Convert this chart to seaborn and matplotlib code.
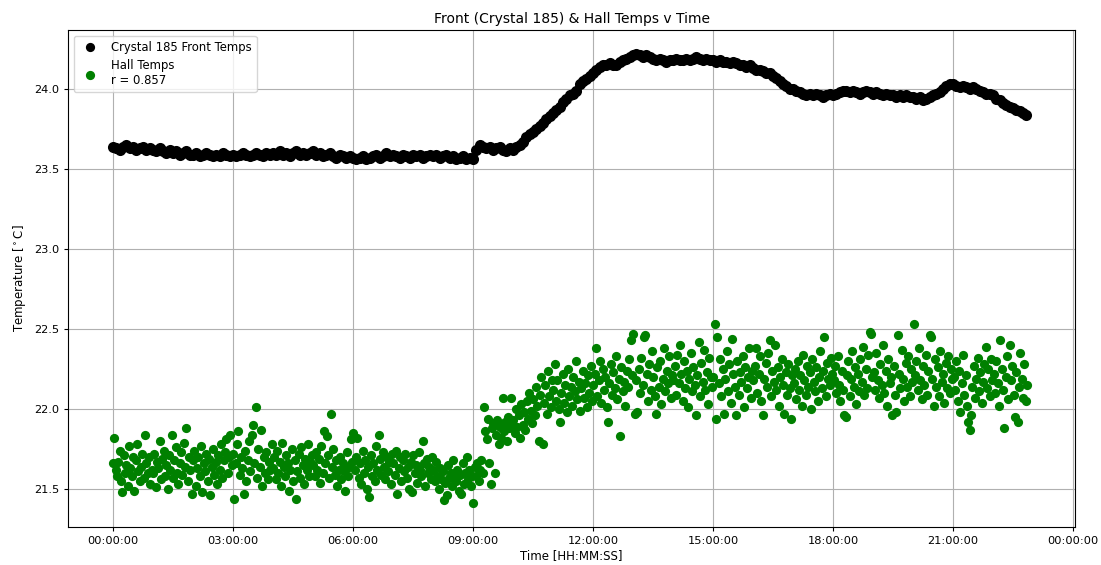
import numpy as np
import pandas as pd
import matplotlib
matplotlib.use("Agg")
import matplotlib.pyplot as plt
import matplotlib.dates as mdates
import seaborn as sns

# ---- Data ----
# Crystal 185 front temperatures, one reading every 5 minutes from 00:00 to 22:50
crystal_temps = [
    # 00h
    23.64, 23.63, 23.62, 23.64, 23.65, 23.63, 23.64, 23.62, 23.63, 23.64, 23.62, 23.63,
    # 01h
    23.62, 23.61, 23.63, 23.61, 23.60, 23.62, 23.60, 23.61, 23.59, 23.60, 23.61, 23.59,
    # 02h
    23.59, 23.60, 23.58, 23.59, 23.60, 23.59, 23.58, 23.59, 23.58, 23.60, 23.59, 23.58,
    # 03h
    23.59, 23.58, 23.59, 23.60, 23.59, 23.58, 23.59, 23.60, 23.59, 23.58, 23.60, 23.59,
    # 04h
    23.60, 23.59, 23.61, 23.59, 23.60, 23.58, 23.60, 23.61, 23.59, 23.60, 23.59, 23.60,
    # 05h
    23.61, 23.59, 23.60, 23.58, 23.59, 23.60, 23.58, 23.57, 23.59, 23.58, 23.57, 23.58,
    # 06h
    23.57, 23.56, 23.57, 23.58, 23.56, 23.57, 23.58, 23.59, 23.57, 23.58, 23.60, 23.58,
    # 07h
    23.59, 23.58, 23.57, 23.59, 23.58, 23.57, 23.59, 23.58, 23.59, 23.57, 23.58, 23.59,
    # 08h
    23.58, 23.59, 23.57, 23.58, 23.59, 23.57, 23.58, 23.56, 23.57, 23.58, 23.56, 23.57,
    # 09h
    23.56, 23.62, 23.65, 23.64, 23.63, 23.64, 23.62, 23.63, 23.64, 23.62, 23.61, 23.63,
    # 10h
    23.62, 23.64, 23.65, 23.67, 23.70, 23.72, 23.73, 23.75, 23.77, 23.79, 23.81, 23.83,
    # 11h
    23.85, 23.87, 23.89, 23.92, 23.94, 23.96, 23.97, 23.99, 24.03, 24.05, 24.06, 24.08,
    # 12h
    24.10, 24.12, 24.14, 24.15, 24.15, 24.16, 24.15, 24.15, 24.17, 24.18, 24.19, 24.20,
    # 13h
    24.21, 24.22, 24.21, 24.20, 24.21, 24.20, 24.19, 24.18, 24.19, 24.18, 24.17, 24.18,
    # 14h
    24.18, 24.19, 24.18, 24.18, 24.19, 24.18, 24.19, 24.20, 24.19, 24.18, 24.19, 24.18,
    # 15h
    24.18, 24.17, 24.18, 24.17, 24.17, 24.16, 24.17, 24.16, 24.15, 24.15, 24.14, 24.15,
    # 16h
    24.13, 24.12, 24.12, 24.11, 24.10, 24.10, 24.08, 24.07, 24.05, 24.03, 24.02, 24.00,
    # 17h
    24.00, 23.99, 23.98, 23.97, 23.96, 23.97, 23.96, 23.97, 23.96, 23.95, 23.96, 23.97,
    # 18h
    23.96, 23.97, 23.98, 23.99, 23.99, 23.98, 23.99, 23.98, 23.97, 23.98, 23.99, 23.98,
    # 19h
    23.97, 23.98, 23.97, 23.96, 23.97, 23.96, 23.96, 23.95, 23.96, 23.95, 23.96, 23.95,
    # 20h
    23.95, 23.94, 23.95, 23.93, 23.94, 23.95, 23.96, 23.97, 23.98, 24.00, 24.02, 24.03,
    # 21h
    24.03, 24.02, 24.01, 24.02, 24.01, 24.00, 24.01, 24.00, 23.99, 23.98, 23.97, 23.97,
    # 22h
    23.96, 23.94, 23.93, 23.91, 23.90, 23.89, 23.88, 23.87, 23.86, 23.85, 23.84,
]

# Hall temperatures, evenly sampled from 00:00 to 22:51 (30 readings per hour)
hall_temps = [
    # 00h
    21.66, 21.82, 21.62, 21.58, 21.67, 21.74, 21.55, 21.48, 21.71, 21.60,
    21.65, 21.52, 21.77, 21.63, 21.58, 21.70, 21.49, 21.68, 21.78, 21.61,
    21.55, 21.64, 21.72, 21.57, 21.84, 21.66, 21.60, 21.70, 21.53, 21.62,
    # 01h
    21.60, 21.72, 21.51, 21.67, 21.63, 21.80, 21.56, 21.69, 21.74, 21.58,
    21.65, 21.50, 21.71, 21.62, 21.84, 21.57, 21.68, 21.76, 21.60, 21.53,
    21.66, 21.73, 21.59, 21.79, 21.64, 21.88, 21.55, 21.70, 21.62, 21.47,
    # 02h
    21.68, 21.74, 21.52, 21.63, 21.70, 21.58, 21.77, 21.48, 21.66, 21.61,
    21.72, 21.55, 21.69, 21.46, 21.64, 21.75, 21.59, 21.67, 21.53, 21.71,
    21.62, 21.78, 21.57, 21.68, 21.73, 21.81, 21.60, 21.70, 21.84, 21.65,
    # 03h
    21.72, 21.44, 21.66, 21.78, 21.86, 21.59, 21.70, 21.63, 21.47, 21.74,
    21.55, 21.68, 21.80, 21.61, 21.84, 21.90, 21.66, 22.01, 21.57, 21.75,
    21.64, 21.87, 21.52, 21.70, 21.60, 21.73, 21.56, 21.67, 21.62, 21.78,
    # 04h
    21.63, 21.70, 21.56, 21.74, 21.60, 21.67, 21.52, 21.79, 21.64, 21.58,
    21.71, 21.66, 21.49, 21.62, 21.75, 21.55, 21.68, 21.44, 21.61, 21.72,
    21.57, 21.76, 21.65, 21.53, 21.69, 21.62, 21.78, 21.58, 21.66, 21.71,
    # 05h
    21.65, 21.58, 21.73, 21.62, 21.69, 21.54, 21.77, 21.60, 21.86, 21.66,
    21.83, 21.71, 21.57, 21.97, 21.64, 21.75, 21.59, 21.68, 21.52, 21.62,
    21.70, 21.56, 21.66, 21.61, 21.49, 21.73, 21.58, 21.64, 21.81, 21.67,
    # 06h
    21.85, 21.62, 21.70, 21.82, 21.57, 21.66, 21.53, 21.74, 21.60, 21.68,
    21.50, 21.64, 21.45, 21.71, 21.58, 21.66, 21.55, 21.77, 21.62, 21.84,
    21.69, 21.59, 21.73, 21.64, 21.56, 21.70, 21.61, 21.67, 21.53, 21.72,
    # 07h
    21.66, 21.59, 21.74, 21.47, 21.63, 21.70, 21.55, 21.68, 21.61, 21.72,
    21.57, 21.64, 21.50, 21.67, 21.48, 21.71, 21.60, 21.65, 21.54, 21.73,
    21.62, 21.58, 21.80, 21.66, 21.52, 21.69, 21.60, 21.64, 21.56, 21.70,
    # 08h
    21.62, 21.55, 21.67, 21.58, 21.50, 21.63, 21.56, 21.61, 21.43, 21.54,
    21.46, 21.65, 21.57, 21.60, 21.52, 21.68, 21.58, 21.55, 21.62, 21.49,
    21.59, 21.47, 21.66, 21.53, 21.60, 21.70, 21.56, 21.62, 21.52, 21.58,
    # 09h
    21.41, 21.64, 21.58, 21.66, 21.55, 21.62, 21.68, 21.60, 22.01, 21.86,
    21.81, 21.94, 21.66, 21.53, 21.88, 21.91, 21.60, 21.84, 21.93, 21.78,
    21.89, 21.82, 22.07, 21.86, 21.92, 21.80, 21.95, 21.88, 22.07, 21.91,
    # 10h
    21.93, 21.85, 22.00, 21.89, 21.96, 21.82, 22.03, 21.90, 21.98, 21.87,
    22.05, 21.94, 22.10, 21.99, 21.91, 22.06, 21.96, 22.14, 22.02, 21.80,
    22.09, 22.20, 21.78, 22.04, 22.15, 21.97, 22.24, 22.08, 22.01, 22.18,
    # 11h
    22.12, 22.28, 22.05, 22.18, 22.00, 21.92, 22.10, 22.22, 22.04, 22.15,
    21.98, 22.25, 22.08, 22.14, 22.02, 22.20, 22.11, 22.30, 22.06, 22.17,
    21.99, 22.13, 22.24, 22.07, 22.16, 22.01, 22.21, 22.10, 22.27, 22.05,
    # 12h
    22.15, 22.22, 22.38, 22.08, 22.18, 22.30, 22.04, 22.25, 22.12, 22.20,
    22.01, 21.92, 22.16, 22.28, 22.09, 22.23, 22.13, 22.33, 22.06, 22.19,
    21.83, 22.26, 22.11, 22.17, 22.02, 22.24, 22.14, 22.31, 22.43, 22.21,
    # 13h
    22.47, 21.97, 22.18, 21.98, 22.25, 22.10, 22.32, 22.15, 22.45, 22.46,
    22.22, 22.05, 22.28, 22.12, 22.36, 22.20, 22.08, 21.97, 22.26, 22.14,
    22.30, 22.03, 22.19, 22.38, 22.11, 22.24, 22.16, 22.33, 22.07, 22.21,
    # 14h
    22.18, 22.27, 22.09, 22.34, 22.16, 22.40, 22.22, 22.05, 22.30, 22.13,
    22.24, 22.01, 22.19, 22.35, 22.11, 22.26, 22.15, 21.96, 22.21, 22.42,
    22.08, 22.29, 22.17, 22.37, 22.12, 22.23, 22.03, 22.32, 22.20, 22.14,
    # 15h
    22.20, 22.53, 21.94, 22.45, 22.16, 22.31, 22.08, 22.25, 21.97, 22.19,
    22.36, 22.11, 22.28, 22.04, 22.44, 22.22, 22.14, 21.96, 22.30, 22.09,
    22.23, 22.17, 22.33, 22.01, 22.26, 22.13, 22.20, 22.38, 22.07, 22.24,
    # 16h
    22.18, 22.27, 22.38, 22.10, 22.22, 22.33, 22.05, 21.96, 22.19, 22.29,
    22.14, 22.35, 22.43, 22.08, 22.24, 22.17, 22.40, 22.12, 22.26, 22.02,
    22.20, 22.31, 22.15, 21.97, 22.23, 22.09, 22.28, 22.13, 21.94, 22.21,
    # 17h
    22.16, 22.25, 22.06, 22.30, 22.12, 22.21, 22.02, 22.34, 22.18, 22.09,
    22.27, 22.14, 22.23, 22.00, 22.31, 22.17, 22.11, 22.26, 22.05, 22.20,
    22.36, 22.13, 22.24, 22.45, 22.08, 22.29, 22.19, 22.15, 22.32, 22.22,
    # 18h
    22.18, 22.27, 22.10, 22.33, 22.15, 22.05, 22.24, 22.12, 21.96, 21.95,
    22.21, 22.30, 22.08, 22.19, 22.36, 22.14, 22.26, 22.03, 22.22, 22.11,
    22.31, 22.17, 22.39, 22.09, 22.25, 22.13, 22.34, 22.48, 22.47, 22.20,
    # 19h
    22.23, 22.12, 22.35, 22.18, 22.07, 22.28, 22.15, 22.40, 22.10, 22.24,
    22.02, 22.31, 22.16, 22.20, 21.96, 22.27, 22.09, 21.98, 22.46, 22.22,
    22.13, 22.37, 22.19, 22.05, 22.29, 22.14, 22.33, 22.08, 22.25, 22.17,
    # 20h
    22.53, 22.21, 22.30, 22.12, 22.38, 22.18, 22.06, 22.27, 22.15, 22.34,
    22.09, 22.24, 22.46, 22.45, 22.19, 22.02, 22.31, 22.14, 22.26, 22.08,
    22.36, 22.17, 22.22, 22.04, 22.29, 22.13, 22.33, 22.10, 22.25, 22.19,
    # 21h
    22.20, 22.12, 22.30, 22.05, 22.24, 21.98, 22.16, 22.34, 22.09, 22.21,
    22.02, 21.92, 21.87, 21.96, 22.14, 22.27, 22.07, 22.19, 22.32, 22.11,
    22.23, 22.04, 22.17, 22.28, 22.39, 22.13, 22.25, 22.08, 22.31, 22.18,
    # 22h
    22.22, 22.10, 22.30, 22.16, 22.02, 22.43, 22.25, 22.12, 21.88, 22.20,
    22.33, 22.06, 22.40, 22.18, 22.27, 22.09, 21.95, 22.23, 21.92, 22.14,
    22.35, 22.19, 22.07, 22.28, 22.05, 22.15,
]

crystal_label = "Crystal 185 Front Temps"
hall_label = "Hall Temps\nr = 0.857"

start = pd.Timestamp("2023-01-01 00:00:00")
crystal_time = start + pd.to_timedelta(np.arange(len(crystal_temps)) * 5, unit="min")
hall_time = pd.date_range(start, start + pd.Timedelta(hours=22.85), periods=len(hall_temps))

crystal_df = pd.DataFrame({"time": crystal_time, "temp": crystal_temps})
hall_df = pd.DataFrame({"time": hall_time, "temp": hall_temps})

fig = plt.figure(figsize=(11.01, 5.65), dpi=100)
ax = fig.add_axes([0.0618, 0.0673, 0.9146, 0.8796])

sns.scatterplot(data=crystal_df, x="time", y="temp", color="black", s=64,
                linewidth=0, label=crystal_label, ax=ax, zorder=3)
sns.scatterplot(data=hall_df, x="time", y="temp", color="green", s=44,
                linewidth=0, label=hall_label, ax=ax, zorder=3)

ax.xaxis.set_major_locator(mdates.HourLocator(byhour=range(0, 24, 3)))
ax.xaxis.set_major_formatter(mdates.DateFormatter("%H:%M:%S"))
ax.set_xlim(start - pd.Timedelta(hours=1.125), start + pd.Timedelta(hours=24.05))
ax.set_ylim(21.2625, 24.369)

ax.tick_params(labelsize=8.2, length=3)
ax.grid(True, color="#b0b0b0", linewidth=0.8)
ax.set_axisbelow(True)
ax.set_title("Front (Crystal 185) & Hall Temps v Time", fontsize=10, pad=5)
ax.set_xlabel("Time [HH:MM:SS]", fontsize=8.5, labelpad=2)
ax.set_ylabel(r"Temperature [$^\circ$C]", fontsize=8.5)
leg = ax.legend(loc="upper left", fontsize=8.4)
for h in leg.legend_handles:
    h.set_sizes([44])

fig.savefig("out.png", dpi=100)
